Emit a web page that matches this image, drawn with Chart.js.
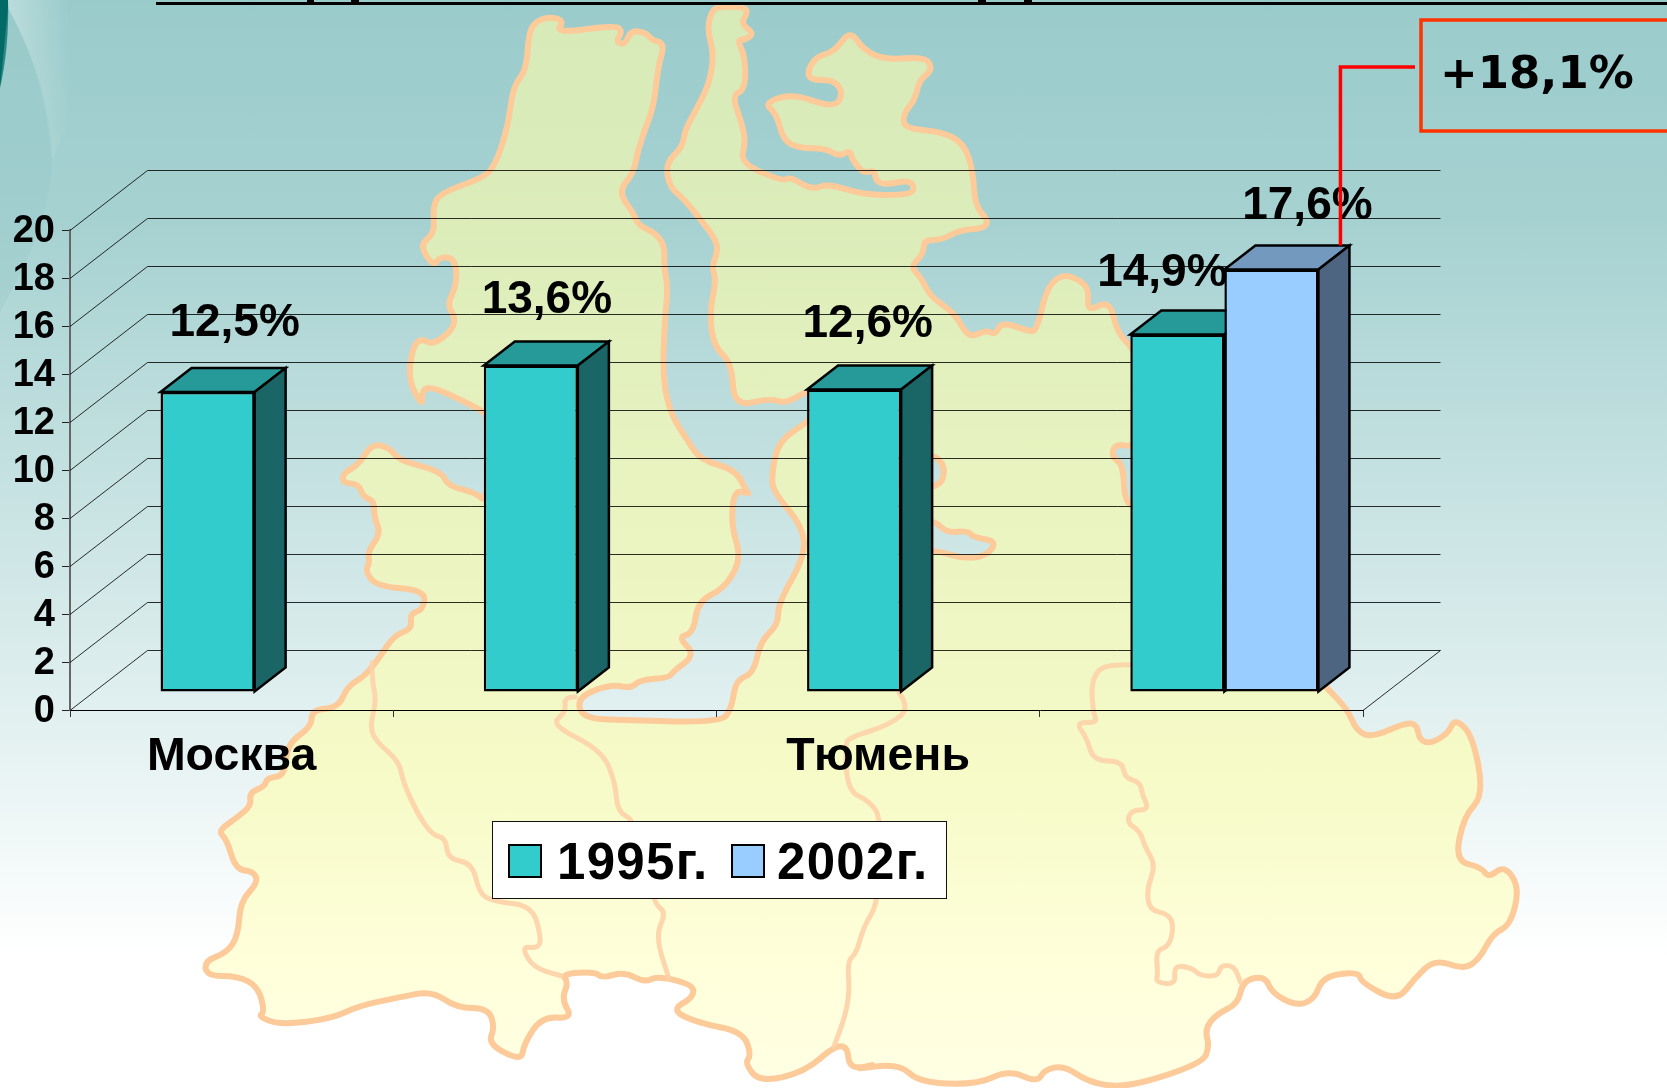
<!DOCTYPE html>
<html>
<head>
<meta charset="utf-8">
<style>
html,body{margin:0;padding:0;width:1667px;height:1088px;overflow:hidden;background:#fff}
#bg{position:absolute;left:0;top:0;width:1667px;height:1088px;background:linear-gradient(180deg,#9acbcb 0%,#a6d1d1 20%,#ffffff 88%)}
#map{position:absolute;left:0;top:0}
#c{position:absolute;left:0;top:0}
</style>
<script src="https://cdn.jsdelivr.net/npm/chart.js@4"></script>
</head>
<body>
<div id="bg"></div>
<svg id="map" width="1667" height="1088" viewBox="0 0 1667 1088">
  <defs>
    <linearGradient id="sheen" x1="0" x2="1" y1="0" y2="0">
      <stop offset="0" stop-color="#ffffff" stop-opacity=".32"/>
      <stop offset="1" stop-color="#ffffff" stop-opacity="0"/>
    </linearGradient>
    <linearGradient id="landFill" gradientUnits="userSpaceOnUse" x1="0" x2="0" y1="0" y2="1088">
      <stop offset="0" stop-color="rgb(255,255,170)" stop-opacity=".6"/>
      <stop offset=".72" stop-color="rgb(255,255,170)" stop-opacity=".6"/>
      <stop offset="1" stop-color="rgb(255,255,170)" stop-opacity=".32"/>
    </linearGradient>
  </defs>
  <path d="M8 0 L70 0 L70 120 L52 160 C46 90 30 50 8 8 Z" fill="url(#sheen)"/>
  <path d="M0 0 L8 0 C9 30 6 62 0 88 Z" fill="#006b66"/>
  <path d="M8 8 C32 50 48 95 52 150 C53 200 35 250 0 312 L0 88 Z" fill="#95c8c8" opacity=".3"/>
  <path id="land" fill="url(#landFill)" fill-rule="evenodd" stroke="#fdca9a" stroke-width="6" stroke-linejoin="round"/>
  <g id="inner" fill="none" stroke="#fdd2a8" stroke-opacity=".9" stroke-width="5" stroke-linejoin="round" stroke-linecap="round"></g>
</svg>
<canvas id="c" width="1667" height="1088"></canvas>
<script>
// ---- chart values ----
const categories = ["Москва", "", "Тюмень", ""];
const seriesNames = ["1995г.", "2002г."];
const values1995 = [12.5, 13.6, 12.6, 14.9];
const values2002 = [null, null, null, 17.6];
const calloutText = "+18,1%";

// ---- decorative map behind the chart (traced outline, not data) ----
const FRAMES = {
  a: [330, 0, 1 / 2.24, 1 / 3],
  b: [180, 420, 1 / 2.24, 1 / 2.347],
  c: [850, 420, 1 / 2.24, 1 / 2.347],
  f: [0, 0, 1, 1]
};
function seg(frame, s) {
  const [ox, oy, kx, ky] = FRAMES[frame];
  return s.trim().split(/\s+/).map(p => { const [x, y] = p.split(',').map(Number); return [ox + x * kx, oy + y * ky]; });
}
function pathOf(pts, close) {
  const f = p => p[0].toFixed(1) + ' ' + p[1].toFixed(1);
  const mid = (p, q) => [(p[0] + q[0]) / 2, (p[1] + q[1]) / 2];
  const n = pts.length;
  if (close) {
    let d = 'M' + f(mid(pts[n - 1], pts[0]));
    for (let i = 0; i < n; i++) d += 'Q' + f(pts[i]) + ' ' + f(mid(pts[i], pts[(i + 1) % n]));
    return d + 'Z';
  }
  let d = 'M' + f(pts[0]);
  for (let i = 1; i < n - 1; i++) d += 'Q' + f(pts[i]) + ' ' + f(mid(pts[i], pts[i + 1]));
  return d + 'L' + f(pts[n - 1]);
}
const outline = [].concat(
  seg('a', '445,100 460,65 490,50 525,62 505,100 640,75 655,95 640,125 660,135 675,90 710,100 720,120 750,130 735,200 725,320 705,390 690,450 680,520 645,575 680,640 690,675 730,700 750,740 748,800 757,860 750,960 745,1130 762,1240 800,1320 830,1380 910,1410 935,1480'),
  seg('b', '1275,172 1240,165 1235,250 1258,325 1220,395 1160,425 1150,500 1115,510 1155,550 1105,590 1095,605 1030,610 1010,630 965,620 890,650 900,700 1000,705 1210,710 1235,680 1245,610 1285,595 1300,520 1340,480 1340,430 1400,320 1395,250 1330,170 1325,130 1340,50 1405,5'),
  seg('a', '1085,1245 1085,1170 1060,1180 1020,1210 985,1195 905,1220 900,1090 860,1040 850,940 865,840 855,800 870,750 860,710 825,650 795,600 760,560 752,490 790,440 795,390 820,330 850,250 860,160 845,90 855,30 875,20 930,20 935,40 920,70 950,100 930,120 912,120 930,170 930,270 900,285 925,380 930,430 920,490 1015,545 1030,530 1080,570 1115,550 1195,585 1290,585 1310,570 1300,540 1240,555 1222,540 1220,510 1195,520 1170,480 1165,450 1140,470 1110,445 1050,445 1015,420 1000,340 972,310 1035,280 1130,325 1150,280 1130,240 1075,240 1070,210 1090,170 1130,155 1165,90 1195,150 1245,180 1335,170 1350,210 1320,240 1310,300 1285,340 1285,385 1370,395 1420,430 1440,510 1445,620 1475,660 1465,685 1410,690 1370,720 1330,720 1330,760 1300,800 1325,835 1345,890 1400,940 1430,1015 1470,990 1490,1005 1505,965 1568,995'),
  seg('f', '1037,330 1047,287 1063,274 1080,280 1089,290 1087,312 1110,300 1117,333 1135,350 1150,400'),
  seg('c', '640,65 595,55 585,85 612,105 615,190 640,205 1040,600 1065,625 1115,680 1135,730 1170,745 1245,710 1270,715 1275,750 1300,760 1340,735 1355,700 1395,740 1420,880 1375,930 1355,1035 1415,1050 1430,1075 1465,1045 1500,1095 1480,1185 1440,1205 1410,1265 1375,1290 1310,1265 1265,1310 1225,1365 1145,1320 1140,1295 1060,1305 1040,1360 1000,1375 945,1345 930,1305 880,1315 870,1370 820,1395 795,1430 805,1470 790,1510 620,1568 535,1555 480,1515 435,1525 420,1555 355,1525 285,1560 155,1555 110,1510 0,1525'),
  seg('b', '1568,1510 1500,1525 1495,1470 1465,1470 1400,1530 1300,1555 1265,1510 1280,1490 1260,1435 1160,1415 1100,1385 1150,1355 1150,1325 1070,1305 1040,1320 995,1295 945,1310 930,1295 855,1300 870,1320 855,1360 880,1405 810,1400 770,1465 765,1505 690,1465 705,1425 690,1380 620,1380 565,1340 490,1355 400,1375 340,1405 225,1420 175,1400 190,1390 175,1330 130,1305 60,1305 55,1270 105,1250 130,1210 135,1130 175,1085 165,1060 125,1055 105,985 85,965 125,935 160,905 155,875 190,860 195,840 235,835 240,760 295,720 295,680 355,675 375,625 415,600 445,560 480,505 520,490 515,455 545,445 550,400 440,390 415,355 425,335 420,310 450,265 435,230 435,190 410,180 400,150 365,148 365,125 400,105 430,55 470,65 490,95 585,120 600,155 660,170 690,195'),
  seg('a', '360,1250 325,1220 230,1160 205,1170 208,1222 175,1140 185,1040 205,1015 230,1035 275,990 280,950 262,915 285,850 280,775 245,770 232,800 200,735 235,700 230,625 245,580 350,530 375,480 400,370 410,260 440,210')
);
const holes = [
  seg('c', '190,80 215,115 200,160 100,165 100,80'),
  seg('c', '190,235 215,265 265,260 275,275 330,285 305,320 250,325 190,305 100,305 100,235')
];
document.getElementById('land').setAttribute('d', pathOf(outline, true) + holes.map(h => pathOf(h, true)).join(''));
const innerLines = [
  seg('b', '430,570 430,610 440,660 425,720 440,755 490,800 500,850 530,920 565,975 595,980 600,1030 655,1040 670,1110 700,1130 790,1140 810,1220 800,1240 765,1235 790,1285 855,1305'),
  seg('b', '885,650 860,650 865,685 830,715 945,775 975,850 980,920 1020,940 1060,1135 1090,1155 1065,1210 1095,1310'),
  [].concat(seg('c', '110,640 135,675 90,715 0,745'), seg('b', '1490,760 1495,870 1545,895'), seg('c', '70,935 65,1130 30,1190 15,1250'), seg('b', '1495,1270 1500,1340 1490,1400 1465,1470')),
  seg('c', '630,575 570,572 540,610 545,690 555,710 505,710 530,745 545,800 610,800 615,840 650,850 655,880 670,915 630,915 620,945 650,965 660,1000 685,1045 665,1100 670,1150 715,1160 725,1190 715,1235 685,1245 690,1300 685,1320 730,1325 725,1280 765,1285 785,1305 825,1305 830,1280 860,1280 875,1320')
];
const innerG = document.getElementById('inner');
innerLines.forEach(l => {
  const p = document.createElementNS('http://www.w3.org/2000/svg', 'path');
  p.setAttribute('d', pathOf(l, false));
  innerG.appendChild(p);
});

// ---- chart ----
const FONT = '"Liberation Sans", Arial, sans-serif';
const WALL = { dx: 77.5, dy: -60 };     // floor depth, front axis to back wall
const PLANE = { dx: 23, dy: -18 };      // front-face plane of the bars
const DEPTH = { dx: 31, dy: -24 };      // depth of one bar
const FACE = [
  { top: '#269999', side: '#1a6666' },
  { top: '#7399bf', side: '#4e6582' }
];
const LABEL_SHIFT = [
  [[27, -56], [16, -53], [13.6, -53], [-15, -48]],
  [null, null, null, [36, -51]]
];

function poly(ctx, pts, fill) {
  ctx.beginPath();
  pts.forEach((p, i) => i ? ctx.lineTo(p[0], p[1]) : ctx.moveTo(p[0], p[1]));
  ctx.closePath();
  ctx.fillStyle = fill;
  ctx.fill();
  ctx.stroke();
}

const perspective = {
  id: 'perspective',
  beforeDatasetsDraw(chart) {
    const { ctx, chartArea: ca } = chart;
    const yS = chart.scales.y;
    ctx.save();
    ctx.strokeStyle = 'rgba(0,0,0,.82)';
    ctx.lineWidth = 1;
    yS.ticks.forEach(t => {
      const y = Math.round(yS.getPixelForValue(t.value)) + .5;
      ctx.beginPath();
      ctx.moveTo(ca.left, y);
      ctx.lineTo(ca.left + WALL.dx, y + WALL.dy);
      ctx.lineTo(ca.right + WALL.dx, y + WALL.dy);
      ctx.stroke();
    });
    const y0 = Math.round(yS.getPixelForValue(0)) + .5;
    ctx.beginPath();
    ctx.moveTo(ca.right, y0);
    ctx.lineTo(ca.right + WALL.dx, y0 + WALL.dy);
    ctx.stroke();
    ctx.restore();

    ctx.save();
    ctx.translate(PLANE.dx, PLANE.dy);
    ctx.strokeStyle = '#000';
    ctx.lineWidth = 2.5;
    ctx.lineJoin = 'miter';
    chart.data.datasets.forEach((ds, di) => {
      chart.getDatasetMeta(di).data.forEach((bar, i) => {
        if (ds.data[i] == null) return;
        const l = bar.x - bar.width / 2, r = bar.x + bar.width / 2, t = bar.y, b = bar.base;
        poly(ctx, [[l, t], [r, t], [r + DEPTH.dx, t + DEPTH.dy], [l + DEPTH.dx, t + DEPTH.dy]], FACE[di].top);
        poly(ctx, [[r, t], [r + DEPTH.dx, t + DEPTH.dy], [r + DEPTH.dx, b + DEPTH.dy], [r, b]], FACE[di].side);
      });
    });
  },
  afterDatasetsDraw(chart) {
    const { ctx } = chart;
    ctx.restore();

    // value labels
    ctx.save();
    ctx.fillStyle = '#000';
    ctx.font = 'bold 46px ' + FONT;
    ctx.textAlign = 'center';
    ctx.textBaseline = 'alphabetic';
    chart.data.datasets.forEach((ds, di) => {
      chart.getDatasetMeta(di).data.forEach((bar, i) => {
        if (ds.data[i] == null) return;
        const s = LABEL_SHIFT[di][i];
        const txt = ds.data[i].toFixed(1).replace('.', ',') + '%';
        ctx.fillText(txt, bar.x + PLANE.dx + s[0], bar.y + PLANE.dy + s[1]);
      });
    });
    ctx.restore();

    // red leader from the 2002 bar to the callout
    const last = chart.getDatasetMeta(1).data[3];
    const lx = last.x + PLANE.dx + last.width / 2 + 22;
    const ly = last.y + PLANE.dy + DEPTH.dy;
    ctx.save();
    ctx.strokeStyle = '#ff0000';
    ctx.lineWidth = 3.5;
    ctx.beginPath();
    ctx.moveTo(lx, ly);
    ctx.lineTo(lx, 67);
    ctx.lineTo(1415, 67);
    ctx.stroke();
    ctx.strokeStyle = '#ff3300';
    ctx.lineWidth = 3.5;
    ctx.strokeRect(1421, 20, 300, 111);
    ctx.fillStyle = '#000';
    ctx.font = 'bold 45px "DejaVu Sans", Verdana, sans-serif';
    ctx.textAlign = 'left';
    ctx.textBaseline = 'alphabetic';
    ctx.fillText(calloutText, 1440, 88);
    ctx.restore();

    // legend box
    ctx.save();
    ctx.fillStyle = '#fff';
    ctx.fillRect(492, 821, 454, 77);
    ctx.strokeStyle = '#111';
    ctx.lineWidth = 1;
    ctx.strokeRect(492.5, 821.5, 454, 77);
    ctx.font = 'bold 51px ' + FONT;
    ctx.letterSpacing = '1.3px';
    ctx.textBaseline = 'alphabetic';
    ctx.textAlign = 'left';
    const legendX = [[509, 557], [732, 777]];
    chart.data.datasets.forEach((ds, di) => {
      ctx.fillStyle = ds.backgroundColor;
      ctx.strokeStyle = '#000';
      ctx.lineWidth = 2;
      ctx.fillRect(legendX[di][0], 845, 32, 32);
      ctx.strokeRect(legendX[di][0], 845, 32, 32);
      ctx.fillStyle = '#000';
      ctx.fillText(ds.label, legendX[di][1], 879);
    });
    ctx.restore();

    // clipped title rule at the very top of the slide
    ctx.save();
    ctx.fillStyle = '#000';
    ctx.fillRect(156, 2, 1511, 3);
    [[307, 7], [351, 8], [978, 8], [1024, 8]].forEach(m => ctx.fillRect(m[0], 0, m[1], 3));
    ctx.restore();
  }
};

new Chart(document.getElementById('c'), {
  type: 'bar',
  data: {
    labels: categories,
    datasets: [
      { label: seriesNames[0], data: values1995, backgroundColor: '#33cccc', borderColor: '#000', borderWidth: 2.5, borderSkipped: false, clip: false },
      { label: seriesNames[1], data: values2002, backgroundColor: '#99ccff', borderColor: '#000', borderWidth: 2.5, borderSkipped: false, clip: false }
    ]
  },
  options: {
    responsive: false,
    animation: false,
    events: [],
    barPercentage: 1,
    categoryPercentage: 0.582,
    layout: { padding: { left: 0, top: 230, right: 304, bottom: 308 } },
    plugins: { legend: { display: false }, title: { display: false }, tooltip: { enabled: false } },
    scales: {
      x: {
        afterFit: s => { s.height = 70; },
        grid: { drawOnChartArea: false, drawTicks: true, tickLength: 7, color: '#333', offset: true },
        border: { color: '#000', width: 1 },
        ticks: { autoSkip: false, maxRotation: 0, minRotation: 0, padding: 12, color: '#000', font: { family: FONT, weight: 'bold', size: 46.5 } }
      },
      y: {
        min: 0, max: 20,
        afterFit: s => { s.width = 70; },
        afterUpdate: s => {
          const base = Object.getPrototypeOf(s).drawLabels;
          s.drawLabels = function (area) {
            this.ctx.save();
            this.ctx.translate(0, 2);
            base.call(this, area);
            this.ctx.restore();
          };
        },
        grid: { drawOnChartArea: false, drawTicks: true, tickLength: 8, color: '#222' },
        border: { color: '#666', width: 2 },
        ticks: { stepSize: 2, autoSkip: false, padding: 7, color: '#000', font: { family: FONT, weight: 'bold', size: 38 } }
      }
    }
  },
  plugins: [perspective]
});
</script>
</body>
</html>
